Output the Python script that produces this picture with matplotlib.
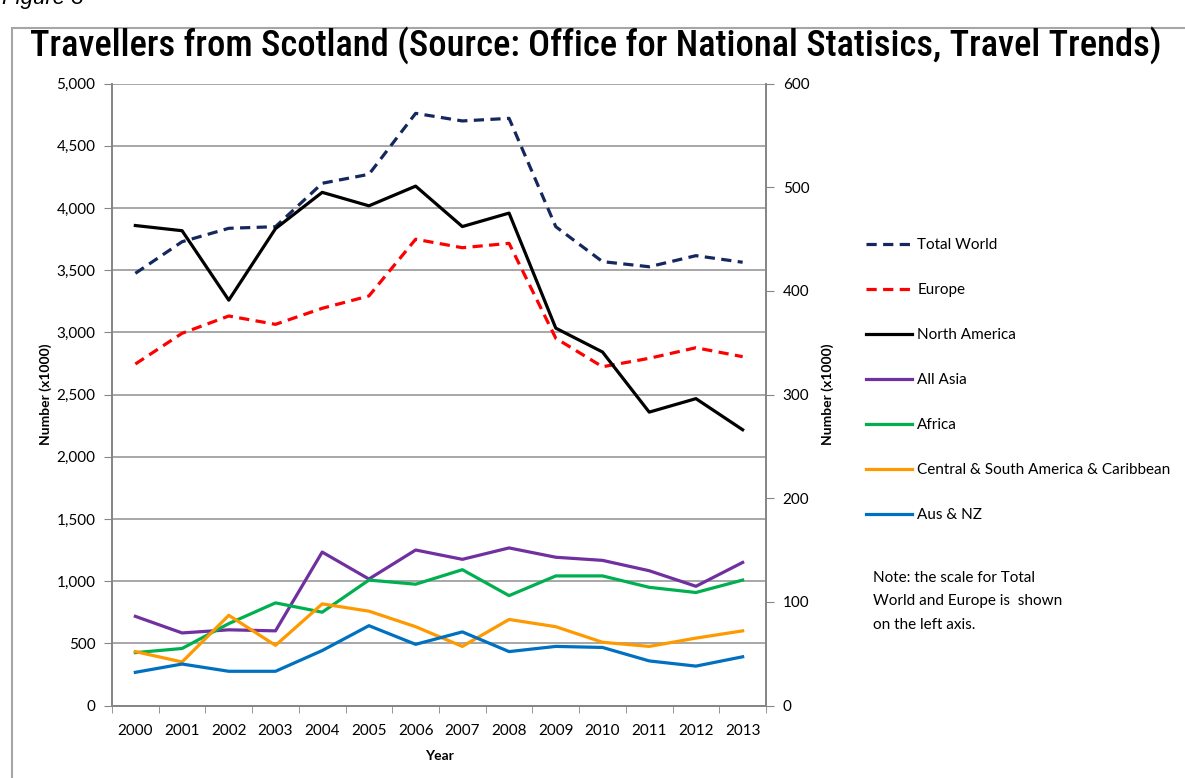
import matplotlib
matplotlib.use("Agg")
import matplotlib.pyplot as plt
from matplotlib.patches import Rectangle
from matplotlib.ticker import FuncFormatter, MultipleLocator
from matplotlib import font_manager

plt.rcParams['font.family'] = ['Lato', 'DejaVu Sans']

years = [str(y) for y in range(2000, 2014)]

# Left axis series (thousands)
total_world = [3474, 3728, 3836, 3849, 4198, 4270, 4760, 4699, 4720, 3849, 3568, 3527, 3616, 3563]
europe = [2745, 2992, 3131, 3064, 3193, 3292, 3748, 3680, 3715, 2952, 2723, 2791, 2876, 2804]

# Right axis series (thousands)
north_america = [463, 458, 391, 460, 495, 482, 501, 462, 475, 364, 341, 283, 296, 266]
all_asia = [86, 70, 73, 72, 148, 122, 150, 141, 152, 143, 140, 130, 115, 138]
africa = [51, 55, 79, 99, 90, 121, 117, 131, 106, 125, 125, 114, 109, 121]
cs_america = [52, 42, 87, 58, 98, 91, 76, 57, 83, 76, 61, 57, 65, 72]
aus_nz = [32, 40, 33, 33, 53, 77, 59, 71, 52, 57, 56, 43, 38, 47]

W, H = 1185, 778
fig = plt.figure(figsize=(W / 100, H / 100), dpi=100)


def pick_family(candidates):
    for name in candidates:
        try:
            font_manager.findfont(font_manager.FontProperties(family=name),
                                  fallback_to_default=False)
            return name
        except ValueError:
            continue
    return 'DejaVu Sans'


title_family = pick_family(['Liberation Sans Narrow', 'Arial Narrow', 'Roboto Condensed',
                            'Open Sans Condensed', 'Liberation Sans'])

# Chart frame and caption
fig.patches.append(Rectangle((12 / W, -0.05), 1.2, 1 - 28 / H + 0.05,
                             transform=fig.transFigure, fill=False,
                             edgecolor='#a6a6a6', linewidth=1.5))
fig.text(2 / W, 1 - 9 / H, "Figure 3", fontsize=16, style='italic',
         family=['Liberation Sans', 'DejaVu Sans'], va='bottom', ha='left')
title = fig.text(596 / W, 1 - 45 / H,
                 "Travellers from Scotland (Source: Office for National Statisics, Travel Trends)",
                 fontsize=25, family=[title_family, 'DejaVu Sans'], fontweight='medium',
                 ha='center', va='center')

# Fit the title to the width of the chart frame
fig.canvas.draw()
tw = title.get_window_extent().width
title.set_fontsize(25 * 1133 / tw)

ax = fig.add_axes([112 / W, 1 - 705.5 / H, (766 - 112) / W, (705.5 - 83.5) / H])
ax2 = ax.twinx()

x = list(range(len(years)))
lw = 2.3
ax.plot(x, total_world, color='#14285e', lw=lw, dashes=(3.2, 2.0), label='Total World', zorder=3)
ax.plot(x, europe, color='#ff0000', lw=lw, dashes=(3.2, 2.0), label='Europe', zorder=3)

ax2.plot(x, north_america, color='#000000', lw=lw, label='North America')
ax2.plot(x, all_asia, color='#7030a0', lw=lw, label='All Asia')
ax2.plot(x, africa, color='#00b050', lw=lw, label='Africa')
ax2.plot(x, cs_america, color='#ff9900', lw=lw, label='Central & South America & Caribbean')
ax2.plot(x, aus_nz, color='#0070c0', lw=lw, label='Aus & NZ')

ax.set_xlim(-0.5, len(years) - 0.5)
ax.set_ylim(0, 5000)
ax2.set_ylim(0, 600)
ax.yaxis.set_major_locator(MultipleLocator(500))
ax2.yaxis.set_major_locator(MultipleLocator(100))
ax.yaxis.set_major_formatter(FuncFormatter(lambda v, p: f"{int(v):,}"))

ax.set_xticks(x)
ax.set_xticklabels(years)
ax.set_xticks([i - 0.5 for i in range(len(years) + 1)], minor=True)
ax.tick_params(axis='x', which='major', length=0, labelsize=11, pad=13)
ax.tick_params(axis='x', which='minor', length=5, color='#868686')
ax.tick_params(axis='y', length=6, color='#868686', labelsize=11, pad=6)
ax2.tick_params(axis='y', length=6, color='#868686', labelsize=11, pad=6)

ax.grid(axis='y', color='#a0a0a0', lw=1.3)
ax.set_axisbelow(True)
for a in (ax, ax2):
    a.spines['top'].set_visible(False)
    for s in ('left', 'right', 'bottom'):
        a.spines[s].set_color('#868686')
        a.spines[s].set_linewidth(1.3)

ax.set_ylabel("Number (x1000)", fontsize=10, fontweight='bold', labelpad=3)
ax2.set_ylabel("Number (x1000)", fontsize=10, fontweight='bold', labelpad=9)
ax.set_xlabel("Year", fontsize=10, fontweight='bold', labelpad=9)

h1, l1 = ax.get_legend_handles_labels()
h2, l2 = ax2.get_legend_handles_labels()
fig.legend(h1 + h2, l1 + l2, loc='upper left',
           bbox_to_anchor=(866 / W, 1 - 238 / H), frameon=False,
           fontsize=11, handlelength=3.0, handletextpad=0.35,
           labelspacing=2.03, borderpad=0, borderaxespad=0)

fig.text(873 / W, 1 - 571 / H,
         "Note: the scale for Total\nWorld and Europe is  shown\non the left axis.",
         fontsize=11, va='top', ha='left', linespacing=1.85)

fig.savefig("out.png", dpi=100)
